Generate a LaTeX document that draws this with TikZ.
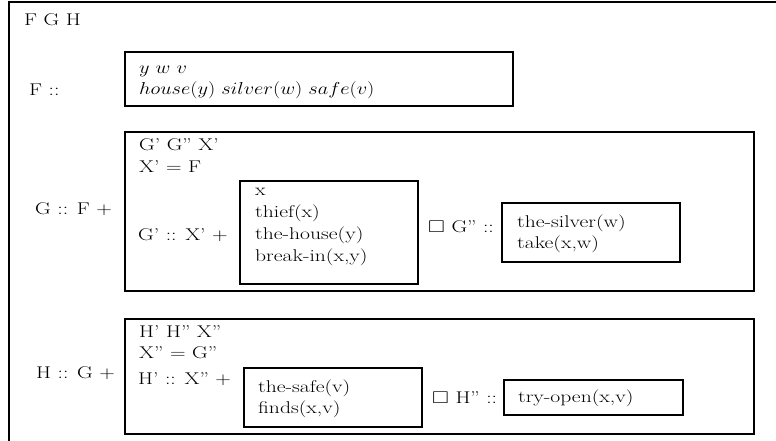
\documentclass[tikz,border=0pt]{standalone}
\usepackage{amssymb}
\usepackage{graphicx}
\newcommand\wstretch[1]{\scalebox{1.27}[1]{#1}}
\newcommand\mstretch[1]{\scalebox{1.18}[1]{#1}}
\tikzset{
  lbl/.style={anchor=base west, inner sep=0pt, font=\fontsize{17}{21}\selectfont},
  frame/.style={line width=2.9pt},
}
\begin{document}
\begin{tikzpicture}[x=1pt,y=-1pt]
\useasboundingbox (0,0) rectangle (776,441);
\draw[frame] (9,445) -- (9,2) -- (780,2);
% F
\node[lbl] (fgh) at (24,26) {\wstretch{F G H}};
\node[lbl] (flab) at (29,96) {\wstretch{F ::}};
\draw[frame] (125,52) rectangle (513,106);
\node[lbl] (fl1) at (139,74) {\mstretch{$y\ w\ v$}};
\node[lbl] (fl2) at (139,95) {\mstretch{$house(y)\ silver(w)\ safe(v)$}};
% G
\draw[frame] (125,132) rectangle (754,291);
\node[lbl] (gl1) at (139,150) {\wstretch{G’ G” X’}};
\node[lbl] (gl2) at (139,172) {\wstretch{X’ = F}};
\node[lbl] (glab) at (35,214) {\wstretch{G :: F +}};
\node[lbl] (gp) at (138,240) {\wstretch{G’ :: X’ +}};
\draw[frame] (240,181) rectangle (418,284);
\node[lbl] (g1) at (255,195) {\wstretch{x}};
\node[lbl] (g2) at (255,217) {\wstretch{thief(x)}};
\node[lbl] (g3) at (255,239) {\wstretch{the-house(y)}};
\node[lbl] (g4) at (255,261) {\wstretch{break-in(x,y)}};
\node[lbl] (gpp) at (428,232) {\wstretch{$\Box$ G” ::}};
\draw[frame] (502,203) rectangle (680,262);
\node[lbl] (s1) at (517,227) {\wstretch{the-silver(w)}};
\node[lbl] (s2) at (517,248) {\wstretch{take(x,w)}};
% H
\draw[frame] (125,319) rectangle (754,434);
\node[lbl] (hl1) at (139,337) {\wstretch{H’ H” X”}};
\node[lbl] (hl2) at (139,358) {\wstretch{X” = G”}};
\node[lbl] (hlab) at (36,378) {\wstretch{H :: G +}};
\node[lbl] (hp) at (138,384) {\wstretch{H’ :: X” +}};
\draw[frame] (244,368) rectangle (422,427);
\node[lbl] (h1) at (258,392) {\wstretch{the-safe(v)}};
\node[lbl] (h2) at (258,413) {\wstretch{finds(x,v)}};
\node[lbl] (hpp) at (432,403) {\wstretch{$\Box$ H” ::}};
\draw[frame] (504,380) rectangle (683,415);
\node[lbl] (t1) at (518,402) {\wstretch{try-open(x,v)}};
\end{tikzpicture}
\end{document}
